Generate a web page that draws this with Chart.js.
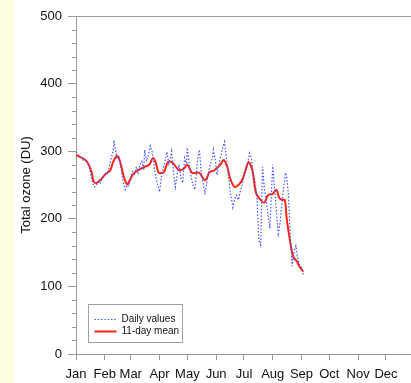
<!DOCTYPE html>
<html>
<head>
<meta charset="utf-8">
<script src="https://cdn.jsdelivr.net/npm/chart.js@4.4.1/dist/chart.umd.min.js"></script>
<style>
  html, body { margin: 0; padding: 0; background: #ffffff; overflow: hidden; }
  #wrap { position: relative; width: 411px; height: 383px; }
</style>
</head>
<body>
<div id="wrap"><canvas id="c" width="411" height="383"></canvas></div>
<script>
// ---- data ----
const monthLabels = ['Jan','Feb','Mar','Apr','May','Jun','Jul','Aug','Sep','Oct','Nov','Dec'];
const monthStartDays = [0,31,59,90,120,151,181,212,243,273,304,334];
const yTickValues = [0,100,200,300,400,500];

const dailyDays = [0,2,4,6,8,10,12,14,16,18,20,22,24,26,28,30,32,34,36,38,40,41,42,44,46,48,50,52,53,55,57,59,61,63,65,67,69,71,73,74,76,78,80,82,84,86,88,90,92,94,96,98,100,102,103,105,107,109,111,113,115,117,119,120,122,124,126,128,130,131,133,135,137,139,141,143,145,147,148,150,152,154,156,158,160,162,164,166,168,169,171,173,175,177,179,181,183,185,187,189,191,193,195,197,199,201,203,205,207,209,211,212,214,216,218,220,222,224,226,227,229,231,233,235,237,239,241,243,245];
const dailyValues = [299,296,292,290,286,288,283,278,265,252,247,250,255,252,260,262,268,266,278,290,300,316,306,290,292,280,262,248,243,250,248,262,270,266,277,268,280,285,272,302,285,295,308,300,280,262,250,240,262,275,285,299,282,292,300,270,247,265,280,260,253,290,282,305,280,262,250,243,270,288,302,268,252,236,255,270,282,290,302,288,265,280,292,305,314,292,268,242,225,217,230,235,228,240,250,262,270,282,297,290,268,255,232,168,161,277,245,228,205,186,250,280,245,210,178,195,225,250,268,262,235,170,130,152,160,140,132,128,117];

const meanDays = [0,5,10,13,17,19,22,26,31,37,40,44,47,51,55,58,61,66,71,76,79,83,86,89,93,95,99,103,107,111,116,120,125,129,133,139,144,148,152,156,159,163,166,171,175,179,182,186,190,194,199,203,207,212,216,219,222,225,227,230,234,238,241,245];
const meanValues = [294,291,287,282,268,255,253,257,265,272,284,293,287,265,251,257,265,271,275,278,280,290,283,268,268,269,284,284,278,272,274,280,268,268,268,257,269,271,275,281,287,277,260,247,250,257,269,284,272,238,228,224,235,237,243,231,228,228,201,173,144,137,129,122];

const dailyLabel = 'Daily values';
const meanLabel = '11-day mean';
const yTitle = 'Total ozone (DU)';

const toPoints = (xs, ys) => xs.map((x, i) => ({ x: x, y: ys[i] }));

const AXIS = '#9a9a9a';
const FONT = "'Liberation Sans', Arial, sans-serif";

const decor = {
  id: 'decor',
  beforeDraw(chart) {
    const ctx = chart.ctx;
    ctx.save();
    ctx.fillStyle = '#ffffff';
    ctx.fillRect(0, 0, chart.width, chart.height);
    ctx.fillStyle = '#fffddf';
    ctx.fillRect(0, 0, 14, chart.height);
    ctx.restore();
  },
  afterDraw(chart) {
    const ctx = chart.ctx;
    const ys = chart.scales.y;
    const area = chart.chartArea;
    ctx.save();
    // minor y ticks
    ctx.strokeStyle = AXIS;
    ctx.lineWidth = 1;
    for (let v = 0; v <= 500; v += 20) {
      if (v % 100 === 0) continue;
      const py = Math.round(ys.getPixelForValue(v)) + 0.5;
      ctx.beginPath();
      ctx.moveTo(area.left - 4, py);
      ctx.lineTo(area.left, py);
      ctx.stroke();
    }
    // legend box
    const bx = area.left + 12.5, by = area.bottom - 49.5, bw = 94, bh = 38;
    ctx.fillStyle = '#ffffff';
    ctx.fillRect(bx, by, bw, bh);
    ctx.strokeStyle = '#a0a0a0';
    ctx.strokeRect(bx, by, bw, bh);
    const ds = chart.data.datasets;
    const rows = [by + 14, by + 26];
    ds.forEach((d, i) => {
      const ry = Math.round(rows[i]) + 0.5;
      ctx.strokeStyle = d.borderColor;
      ctx.lineWidth = d.borderWidth;
      ctx.setLineDash(d.borderDash || []);
      ctx.beginPath();
      ctx.moveTo(bx + 6, ry);
      ctx.lineTo(bx + 28, ry);
      ctx.stroke();
      ctx.setLineDash([]);
      ctx.fillStyle = '#111111';
      ctx.font = '10px ' + FONT;
      ctx.textBaseline = 'middle';
      ctx.textAlign = 'left';
      ctx.fillText(d.label, bx + 33, ry);
    });
    ctx.restore();
  }
};

new Chart(document.getElementById('c'), {
  type: 'line',
  data: {
    datasets: [
      {
        label: dailyLabel,
        data: toPoints(dailyDays, dailyValues),
        borderColor: '#4456ff',
        borderWidth: 1.2,
        borderDash: [1.5, 1.8],
        pointRadius: 0,
        tension: 0,
        fill: false
      },
      {
        label: meanLabel,
        data: toPoints(meanDays, meanValues),
        borderColor: '#ff2414',
        borderWidth: 2,
        pointRadius: 0,
        tension: 0.3,
        fill: false
      }
    ]
  },
  options: {
    responsive: false,
    animation: false,
    events: [],
    layout: { padding: { left: 14, top: 16, right: 0, bottom: 0 } },
    plugins: { legend: { display: false }, tooltip: { enabled: false } },
    scales: {
      x: {
        type: 'linear',
        min: 0,
        max: 361,
        afterBuildTicks(scale) { scale.ticks = monthStartDays.map(v => ({ value: v })); },
        afterFit(scale) { scale.height = 29; },
        ticks: {
          autoSkip: false,
          maxRotation: 0,
          padding: 7,
          color: '#111111',
          font: { family: FONT, size: 13 },
          callback(value) { const i = monthStartDays.indexOf(value); return i >= 0 ? monthLabels[i] : ''; }
        },
        grid: { drawOnChartArea: false, tickLength: 6, color: AXIS, tickColor: AXIS },
        border: { color: AXIS }
      },
      y: {
        min: 0,
        max: 500,
        afterBuildTicks(scale) { scale.ticks = yTickValues.map(v => ({ value: v })); },
        afterFit(scale) { scale.width = 62; },
        ticks: {
          padding: 6,
          color: '#111111',
          font: { family: FONT, size: 13 }
        },
        grid: {
          drawOnChartArea: true,
          tickLength: 8,
          color: ctx => (ctx.tick && ctx.tick.value === 500 ? AXIS : 'rgba(0,0,0,0)'),
          tickColor: AXIS
        },
        border: { color: AXIS },
        title: {
          display: true,
          text: yTitle,
          color: '#111111',
          font: { family: FONT, size: 13 },
          padding: { top: 5, bottom: 0 }
        }
      }
    }
  },
  plugins: [decor]
});
</script>
</body>
</html>
